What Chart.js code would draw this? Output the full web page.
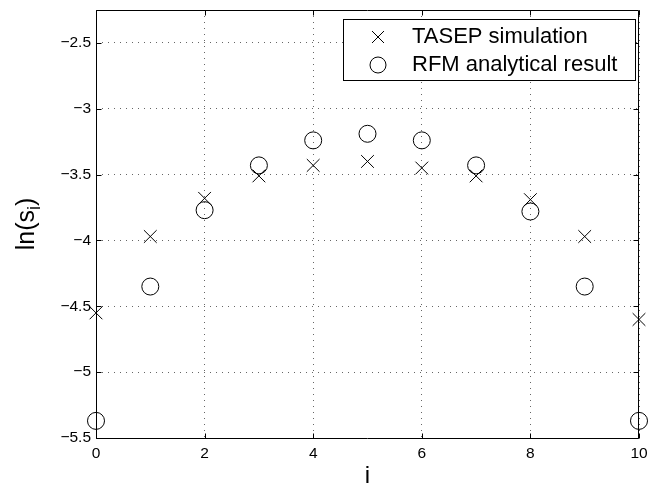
<!DOCTYPE html>
<html>
<head>
<meta charset="utf-8">
<script src="https://cdn.jsdelivr.net/npm/chart.js@4"></script>
<style>
html,body{margin:0;padding:0;background:#fff;}
canvas{display:block;}
</style>
</head>
<body>
<canvas id="c" width="649" height="485"></canvas>
<script>
// ---- data ----
const sites = [0, 1, 2, 3, 4, 5, 6, 7, 8, 9, 10];
const tasepSimulation = [-4.55, -3.97, -3.68, -3.51, -3.43, -3.40, -3.45, -3.51, -3.69, -3.97, -4.60];
const rfmAnalytical = [-5.37, -4.35, -3.77, -3.43, -3.24, -3.19, -3.24, -3.43, -3.78, -4.35, -5.37];
const seriesNames = ['TASEP simulation', 'RFM analytical result'];
const xTicks = [0, 2, 4, 6, 8, 10];
const yTicks = [-5.5, -5, -4.5, -4, -3.5, -3, -2.5];
const xTitle = 'i';
const yTitleMain = 'ln(s';
const yTitleSub = 'i';
const yTitleEnd = ')';

const FONT = '"Liberation Sans", Arial, Helvetica, sans-serif';
const fmt = v => (v < 0 ? '\u2212' : '') + Math.abs(v);

const overlay = {
  id: 'overlay',
  afterDraw(chart) {
    const {ctx, chartArea: a, scales: {x, y}} = chart;
    ctx.save();
    ctx.strokeStyle = '#000';
    ctx.lineWidth = 1;
    ctx.setLineDash([]);
    // axes box
    const L = a.left + 0.5, R = a.right - 0.5, T = a.top + 0.5, B = a.bottom + 0.5;
    ctx.beginPath();
    ctx.rect(L, T, R - L, B - T);
    ctx.stroke();
    // inward ticks
    const tl = 5;
    ctx.beginPath();
    xTicks.forEach(v => {
      const px = Math.round(x.getPixelForValue(v)) + 0.5;
      ctx.moveTo(px, B); ctx.lineTo(px, B - tl);
      ctx.moveTo(px, T); ctx.lineTo(px, T + tl);
    });
    yTicks.forEach(v => {
      const py = Math.round(y.getPixelForValue(v)) + 0.5;
      ctx.moveTo(L, py); ctx.lineTo(L + tl, py);
      ctx.moveTo(R, py); ctx.lineTo(R - tl, py);
    });
    ctx.stroke();

    // x title
    ctx.fillStyle = '#000';
    ctx.font = '24px ' + FONT;
    ctx.textAlign = 'center';
    ctx.textBaseline = 'alphabetic';
    ctx.fillText(xTitle, (a.left + a.right) / 2, 483);

    // y title with subscript
    ctx.save();
    const cy = (a.top + a.bottom) / 2;
    ctx.translate(34, cy);
    ctx.rotate(-Math.PI / 2);
    ctx.textAlign = 'left';
    const mainF = '25px ' + FONT, subF = '18px ' + FONT;
    ctx.font = mainF; const w1 = ctx.measureText(yTitleMain).width;
    ctx.font = subF; const w2 = ctx.measureText(yTitleSub).width;
    ctx.font = mainF; const w3 = ctx.measureText(yTitleEnd).width;
    let sx = -(w1 + w2 + w3) / 2;
    ctx.font = mainF; ctx.fillText(yTitleMain, sx, 0); sx += w1;
    ctx.font = subF; ctx.fillText(yTitleSub, sx, 6); sx += w2;
    ctx.font = mainF; ctx.fillText(yTitleEnd, sx, 0);
    ctx.restore();

    // legend
    const lx = 343.5, ly = 19.5, lw = 292, lh = 61;
    ctx.fillStyle = '#fff';
    ctx.fillRect(lx, ly, lw, lh);
    ctx.strokeRect(lx, ly, lw, lh);
    const rows = [37, 65];
    const mx = 378;
    const h = 6;
    ctx.beginPath();
    ctx.moveTo(mx - h, rows[0] - h); ctx.lineTo(mx + h, rows[0] + h);
    ctx.moveTo(mx - h, rows[0] + h); ctx.lineTo(mx + h, rows[0] - h);
    ctx.stroke();
    ctx.beginPath();
    ctx.arc(mx, rows[1], 8, 0, Math.PI * 2);
    ctx.stroke();
    ctx.fillStyle = '#000';
    ctx.font = '22px ' + FONT;
    ctx.textAlign = 'left';
    ctx.textBaseline = 'alphabetic';
    ctx.fillText(seriesNames[0], 412, 43);
    ctx.fillText(seriesNames[1], 412, 71);
    ctx.restore();
  }
};

new Chart(document.getElementById('c'), {
  type: 'scatter',
  data: {
    datasets: [
      {
        label: seriesNames[0],
        data: sites.map((s, i) => ({x: s, y: tasepSimulation[i]})),
        pointStyle: 'crossRot',
        pointRadius: 9,
        pointHoverRadius: 9,
        borderColor: '#000',
        backgroundColor: 'rgba(0,0,0,0)',
        pointBorderWidth: 1,
        clip: false
      },
      {
        label: seriesNames[1],
        data: sites.map((s, i) => ({x: s, y: rfmAnalytical[i]})),
        pointStyle: 'circle',
        pointRadius: 8.5,
        pointHoverRadius: 8.5,
        borderColor: '#000',
        backgroundColor: 'rgba(0,0,0,0)',
        pointBorderWidth: 1,
        clip: false
      }
    ]
  },
  options: {
    responsive: false,
    animation: false,
    events: [],
    layout: {padding: {left: 0, right: 8, top: 10, bottom: 0}},
    plugins: {legend: {display: false}, tooltip: {enabled: false}},
    scales: {
      x: {
        type: 'linear',
        min: 0, max: 10,
        afterFit: s => { s.height = 47; s.paddingLeft = 0; s.paddingRight = 0; },
        afterBuildTicks: s => { s.ticks = xTicks.map(v => ({value: v})); },
        ticks: {
          callback: fmt,
          font: {family: FONT, size: 15.5},
          color: '#000',
          padding: 6,
          maxRotation: 0
        },
        grid: {color: 'rgba(0,0,0,0.6)', lineWidth: 1, drawTicks: false},
        border: {display: false, dash: [1, 5]}
      },
      y: {
        type: 'linear',
        min: -5.5, max: -2.25,
        afterFit: s => { s.width = 96; s.paddingTop = 0; s.paddingBottom = 0; },
        afterBuildTicks: s => { s.ticks = yTicks.map(v => ({value: v})); },
        ticks: {
          callback: fmt,
          font: {family: FONT, size: 15.5},
          color: '#000',
          padding: 5
        },
        grid: {color: 'rgba(0,0,0,0.6)', lineWidth: 1, drawTicks: false},
        border: {display: false, dash: [1, 5]}
      }
    }
  },
  plugins: [overlay]
});
</script>
</body>
</html>
